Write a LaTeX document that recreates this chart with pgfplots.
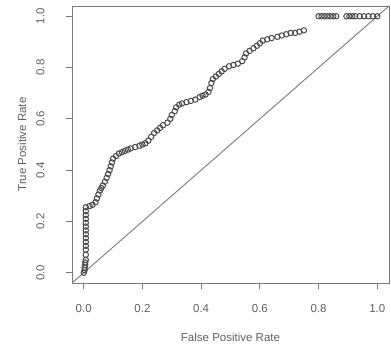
\documentclass[border=0pt]{standalone}
\usepackage{fontspec}
\setmainfont{Liberation Sans}
\usepackage{pgfplots}
\pgfplotsset{compat=1.18}
\definecolor{axgray}{HTML}{7A7A7A}
\definecolor{txtgray}{HTML}{606060}
\definecolor{ptgray}{HTML}{4A4A4A}
\begin{document}
\begin{tikzpicture}
\useasboundingbox (-72bp,-64bp) rectangle (319bp,283bp);
\begin{axis}[
  scale only axis,
  width=317bp, height=277bp,
  xmin=-0.04, xmax=1.04, ymin=-0.04, ymax=1.04,
  axis line style={axgray, line width=0.9pt},
  xtick={0,0.2,0.4,0.6,0.8,1.0},
  ytick={0,0.2,0.4,0.6,0.8,1.0},
  xticklabels={0.0,0.2,0.4,0.6,0.8,1.0},
  yticklabels={\rotatebox{90}{0.0},\rotatebox{90}{0.2},\rotatebox{90}{0.4},\rotatebox{90}{0.6},\rotatebox{90}{0.8},\rotatebox{90}{1.0}},
  tick align=outside,
  xtick pos=bottom, ytick pos=left,
  major tick length=6bp,
  tick style={axgray, line width=0.9pt},
  every tick label/.append style={font=\fontsize{11.5bp}{13bp}\selectfont, text=txtgray},
  xticklabel style={yshift=-12bp},
  yticklabel style={anchor=east, xshift=-18bp},
  label style={font=\fontsize{11.5bp}{13bp}\selectfont, text=txtgray},
  xlabel={False Positive Rate},
  ylabel={True Positive Rate},
  xlabel style={at={(axis description cs:0.5,0)}, anchor=center, yshift=-54bp},
  ylabel style={at={(axis description cs:-0.158,0.5)}, anchor=center},
  clip=true,
]
\addplot[axgray, line width=0.9pt] coordinates {(-0.04,-0.04) (1.04,1.04)};
\addplot[only marks, mark=o, mark size=2.7bp, mark options={ptgray, line width=1pt}] coordinates {
(0,0) (0.003,0.01) (0.003,0.02) (0.005,0.03) (0.005,0.04) (0.007,0.05)
(0.007,0.07) (0.007,0.09) (0.007,0.105) (0.007,0.12) (0.007,0.135) (0.007,0.15) (0.007,0.165) (0.007,0.18) (0.007,0.195) (0.007,0.21) (0.007,0.225) (0.007,0.24) (0.007,0.255)
(0.02,0.26) (0.03,0.265) (0.04,0.275) (0.045,0.29) (0.05,0.305) (0.055,0.32) (0.06,0.33) (0.065,0.34) (0.072,0.355) (0.078,0.37) (0.083,0.385) (0.088,0.4) (0.092,0.415) (0.096,0.43) (0.1,0.445) (0.11,0.455) (0.12,0.465) (0.13,0.47) (0.14,0.475) (0.15,0.48) (0.16,0.485) (0.175,0.49) (0.19,0.495) (0.2,0.5) (0.21,0.505) (0.22,0.515) (0.23,0.53) (0.24,0.545) (0.25,0.555) (0.26,0.565) (0.27,0.575) (0.285,0.585) (0.295,0.6) (0.3,0.615) (0.31,0.63) (0.315,0.645) (0.325,0.655) (0.335,0.66) (0.35,0.665) (0.365,0.67) (0.38,0.675) (0.395,0.685) (0.405,0.69) (0.415,0.695) (0.425,0.705) (0.43,0.72) (0.435,0.74) (0.44,0.755) (0.45,0.765) (0.46,0.775) (0.47,0.785) (0.48,0.795) (0.495,0.805) (0.51,0.81) (0.525,0.815) (0.54,0.825) (0.548,0.84) (0.553,0.855) (0.565,0.865) (0.578,0.875) (0.59,0.885) (0.6,0.895) (0.61,0.905) (0.625,0.91) (0.64,0.915) (0.66,0.92) (0.675,0.925) (0.69,0.93) (0.705,0.935) (0.72,0.935) (0.735,0.94) (0.75,0.945)
(0.8,1) (0.81,1) (0.82,1) (0.83,1) (0.84,1) (0.85,1) (0.86,1)
(0.895,1) (0.905,1) (0.915,1) (0.925,1) (0.94,1) (0.955,1) (0.97,1) (0.985,1) (1,1)
};
\end{axis}
\end{tikzpicture}
\end{document}
